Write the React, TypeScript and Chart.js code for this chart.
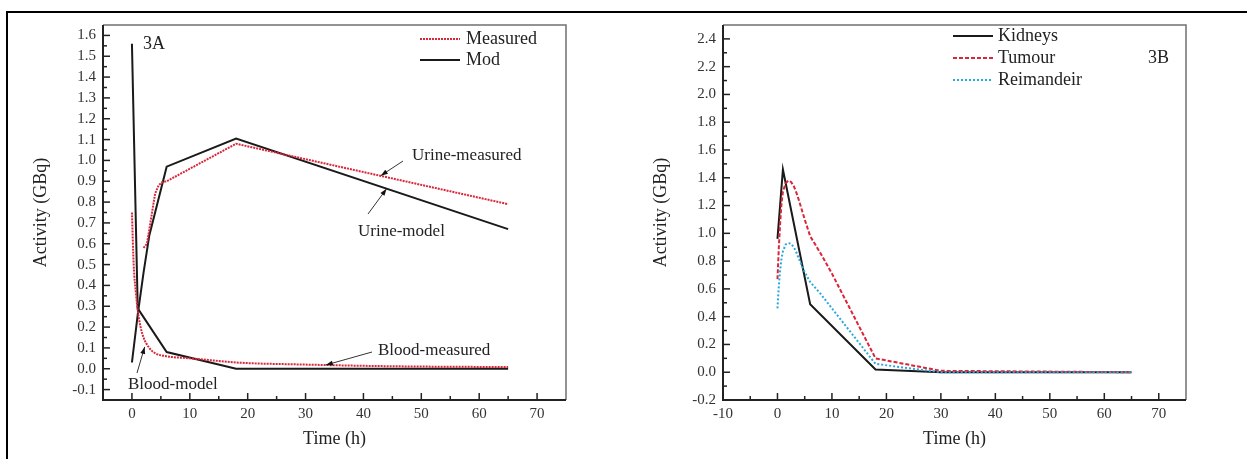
import React, { useEffect, useRef } from "react";
import { Chart, registerables } from "chart.js";
Chart.register(...registerables);

const SERIF = '"Liberation Serif", "Times New Roman", serif';

// ---------- Panel 3A data ----------
const bloodMeasuredT = [0, 0.3, 0.7, 1, 1.5, 2, 3, 4, 6, 10, 14, 18, 30, 45, 65];
const bloodMeasuredV = [0.75, 0.5, 0.36, 0.28, 0.2, 0.15, 0.1, 0.075, 0.06, 0.05, 0.04, 0.03, 0.02, 0.012, 0.008];
const urineMeasuredT = [2, 2.6, 3.3, 4, 4.6, 5.2, 6, 18, 65];
const urineMeasuredV = [0.58, 0.6, 0.72, 0.84, 0.88, 0.895, 0.9, 1.08, 0.79];
const bloodModelT = [0, 1, 6, 18, 65];
const bloodModelV = [1.56, 0.29, 0.08, 0.0, 0.0];
const urineModelT = [0, 1, 2, 3, 6, 18, 65];
const urineModelV = [0.03, 0.26, 0.46, 0.64, 0.97, 1.105, 0.67];

const xTicksA = [0, 10, 20, 30, 40, 50, 60, 70];
const yTicksA = [-0.1, 0.0, 0.1, 0.2, 0.3, 0.4, 0.5, 0.6, 0.7, 0.8, 0.9, 1.0, 1.1, 1.2, 1.3, 1.4, 1.5, 1.6];

// ---------- Panel 3B data ----------
const kidneysT = [0, 1, 6, 18, 30, 65];
const kidneysV = [0.96, 1.46, 0.49, 0.02, 0.0, 0.0];
const tumourT = [0, 0.25, 0.5, 0.75, 1, 1.5, 2, 2.5, 3, 3.5, 4, 5, 6, 8, 10, 18, 30, 65];
const tumourV = [0.67, 0.9, 1.08, 1.22, 1.3, 1.36, 1.38, 1.37, 1.34, 1.29, 1.23, 1.1, 0.98, 0.85, 0.71, 0.1, 0.01, 0.0];
const remainderT = [0, 0.25, 0.5, 0.75, 1, 1.5, 2, 2.5, 3, 3.5, 4, 5, 6, 8, 10, 18, 30, 65];
const remainderV = [0.46, 0.62, 0.74, 0.82, 0.87, 0.92, 0.93, 0.925, 0.9, 0.86, 0.81, 0.72, 0.65, 0.56, 0.46, 0.06, 0.0, 0.0];

const xTicksB = [-10, 0, 10, 20, 30, 40, 50, 60, 70];
const yTicksB = [-0.2, 0.0, 0.2, 0.4, 0.6, 0.8, 1.0, 1.2, 1.4, 1.6, 1.8, 2.0, 2.2, 2.4];

const RED = "#d9263a";
const CYAN = "#2aa8dc";
const BLACK = "#1a1a1a";

const pts = (t: number[], v: number[]) => t.map((x, i) => ({ x, y: v[i] }));
const mids = (a: number[]) => a.slice(1).map((v, i) => (v + a[i]) / 2);

type LegendItem = { label: string; color: string; dash: number[] };
type Ann = { text: string; tx: number; ty: number; fx: number; fy: number; dx: number; dy: number };
type Decor = {
  xMajor: number[];
  yMajor: number[];
  xMinor: number[];
  yMinor: number[];
  legend: { x0: number; x1: number; tx: number; ys: number[]; items: LegendItem[] };
  panel: { text: string; x: number; y: number };
  anns: Ann[];
};

function makeDecor(cfg: Decor) {
  return {
    id: "decor",
    afterDraw(chart: any) {
      const { ctx, chartArea: a } = chart;
      const xs = chart.scales.x;
      const ys = chart.scales.y;
      ctx.save();
      ctx.strokeStyle = "#707070";
      ctx.lineWidth = 1.5;
      ctx.beginPath();
      ctx.moveTo(a.left, a.top);
      ctx.lineTo(a.right, a.top);
      ctx.lineTo(a.right, a.bottom);
      ctx.stroke();
      ctx.strokeStyle = "#222";
      ctx.lineWidth = 2;
      ctx.beginPath();
      ctx.moveTo(a.left, a.top);
      ctx.lineTo(a.left, a.bottom);
      ctx.lineTo(a.right, a.bottom);
      ctx.stroke();
      ctx.lineWidth = 1.5;
      const tick = (x0: number, y0: number, x1: number, y1: number) => {
        ctx.beginPath();
        ctx.moveTo(x0, y0);
        ctx.lineTo(x1, y1);
        ctx.stroke();
      };
      cfg.xMajor.forEach((v) => { const p = xs.getPixelForValue(v); tick(p, a.bottom, p, a.bottom - 7); });
      cfg.xMinor.forEach((v) => { const p = xs.getPixelForValue(v); tick(p, a.bottom, p, a.bottom - 4); });
      cfg.yMajor.forEach((v) => { const p = ys.getPixelForValue(v); tick(a.left, p, a.left + 7, p); });
      cfg.yMinor.forEach((v) => { const p = ys.getPixelForValue(v); tick(a.left, p, a.left + 4, p); });
      const L = cfg.legend;
      ctx.font = `18px ${SERIF}`;
      ctx.textBaseline = "middle";
      ctx.textAlign = "left";
      L.items.forEach((it, i) => {
        const y = L.ys[i];
        ctx.strokeStyle = it.color;
        ctx.lineWidth = 2;
        ctx.setLineDash(it.dash);
        tick(L.x0, y, L.x1, y);
        ctx.setLineDash([]);
        ctx.fillStyle = "#222";
        ctx.fillText(it.label, L.tx, y);
      });
      ctx.fillStyle = "#222";
      ctx.fillText(cfg.panel.text, cfg.panel.x, cfg.panel.y);
      ctx.font = `17px ${SERIF}`;
      cfg.anns.forEach((an) => {
        ctx.fillStyle = "#222";
        ctx.fillText(an.text, an.tx, an.ty);
        const px = xs.getPixelForValue(an.dx);
        const py = ys.getPixelForValue(an.dy);
        ctx.strokeStyle = "#333";
        ctx.lineWidth = 1;
        tick(an.fx, an.fy, px, py);
        const ang = Math.atan2(py - an.fy, px - an.fx);
        const len = 7, w = 2.5;
        ctx.beginPath();
        ctx.moveTo(px, py);
        ctx.lineTo(px - len * Math.cos(ang) + w * Math.sin(ang), py - len * Math.sin(ang) - w * Math.cos(ang));
        ctx.lineTo(px - len * Math.cos(ang) - w * Math.sin(ang), py - len * Math.sin(ang) + w * Math.cos(ang));
        ctx.closePath();
        ctx.fillStyle = "#111";
        ctx.fill();
      });
      ctx.restore();
    },
  };
}

function scales(xMin: number, xMax: number, yMin: number, yMax: number, xt: number[], yt: number[], yw: number) {
  const tickFont = { family: SERIF, size: 15 };
  const titleFont = { family: SERIF, size: 18 };
  return {
    x: {
      type: "linear",
      min: xMin,
      max: xMax,
      afterBuildTicks: (s: any) => { s.ticks = xt.map((v) => ({ value: v })); },
      afterFit: (s: any) => { s.height = 59; },
      grid: { drawOnChartArea: false, drawTicks: false },
      border: { display: false },
      ticks: { font: tickFont, color: "#333", padding: 5, maxRotation: 0, autoSkip: false, callback: (v: any) => String(Math.round(v)) },
      title: { display: true, text: "Time (h)", font: titleFont, color: "#222", padding: { top: 0, bottom: 9 } },
    },
    y: {
      type: "linear",
      min: yMin,
      max: yMax,
      afterBuildTicks: (s: any) => { s.ticks = yt.map((v) => ({ value: v })); },
      afterFit: (s: any) => { s.width = yw; },
      grid: { drawOnChartArea: false, drawTicks: false },
      border: { display: false },
      ticks: { font: tickFont, color: "#333", padding: 7, autoSkip: false, callback: (v: any) => Number(v).toFixed(1) },
      title: { display: true, text: "Activity (GBq)", font: titleFont, color: "#222", padding: { top: 30, bottom: 0 } },
    },
  };
}

const line = (data: any, color: string, dash: number[], smooth: boolean) => ({
  data,
  borderColor: color,
  borderWidth: 2,
  borderDash: dash,
  pointRadius: 0,
  fill: false,
  cubicInterpolationMode: smooth ? "monotone" : "default",
  tension: smooth ? 0.4 : 0,
});

function ChartA() {
  const ref = useRef<HTMLCanvasElement>(null);
  useEffect(() => {
    const chart = new Chart(ref.current as HTMLCanvasElement, {
      type: "line",
      data: {
        datasets: [
          { label: "Blood-measured", ...line(pts(bloodMeasuredT, bloodMeasuredV), RED, [2, 1], true) },
          { label: "Urine-measured", ...line(pts(urineMeasuredT, urineMeasuredV), RED, [2, 1], false) },
          { label: "Blood-model", ...line(pts(bloodModelT, bloodModelV), BLACK, [], false) },
          { label: "Urine-model", ...line(pts(urineModelT, urineModelV), BLACK, [], false) },
        ] as any,
      },
      options: {
        responsive: false,
        animation: false,
        devicePixelRatio: 1,
        layout: { padding: { left: 0, top: 25, right: 54, bottom: 0 } },
        plugins: { legend: { display: false }, tooltip: { enabled: false } },
        scales: scales(-5, 75, -0.15, 1.65, xTicksA, yTicksA, 103) as any,
      },
      plugins: [
        makeDecor({
          xMajor: xTicksA,
          yMajor: yTicksA,
          xMinor: [5, 15, 25, 35, 45, 55, 65],
          yMinor: mids(yTicksA),
          legend: {
            x0: 420, x1: 460, tx: 466, ys: [39, 60],
            items: [
              { label: "Measured", color: RED, dash: [2, 1] },
              { label: "Mod", color: BLACK, dash: [] },
            ],
          },
          panel: { text: "3A", x: 143, y: 44 },
          anns: [
            { text: "Urine-measured", tx: 412, ty: 156, fx: 403, fy: 161, dx: 43, dy: 0.927 },
            { text: "Urine-model", tx: 358, ty: 232, fx: 368, fy: 214, dx: 44, dy: 0.864 },
            { text: "Blood-measured", tx: 378, ty: 351, fx: 372, fy: 352, dx: 33.5, dy: 0.018 },
            { text: "Blood-model", tx: 128, ty: 385, fx: 137, fy: 373, dx: 2.2, dy: 0.105 },
          ],
        }),
      ],
    });
    return () => chart.destroy();
  }, []);
  return <canvas ref={ref} width={620} height={459} style={{ position: "absolute", left: 0, top: 0, width: 620, height: 459 }} />;
}

function ChartB() {
  const ref = useRef<HTMLCanvasElement>(null);
  useEffect(() => {
    const chart = new Chart(ref.current as HTMLCanvasElement, {
      type: "line",
      data: {
        datasets: [
          { label: "Reimandeir", ...line(pts(remainderT, remainderV), CYAN, [2, 2], false) },
          { label: "Tumour", ...line(pts(tumourT, tumourV), RED, [4, 2], false) },
          { label: "Kidneys", ...line(pts(kidneysT, kidneysV), BLACK, [], false) },
        ] as any,
      },
      options: {
        responsive: false,
        animation: false,
        devicePixelRatio: 1,
        layout: { padding: { left: 0, top: 25, right: 61, bottom: 0 } },
        plugins: { legend: { display: false }, tooltip: { enabled: false } },
        scales: scales(-10, 75, -0.2, 2.5, xTicksB, yTicksB, 103) as any,
      },
      plugins: [
        makeDecor({
          xMajor: xTicksB,
          yMajor: yTicksB,
          xMinor: mids(xTicksB),
          yMinor: mids(yTicksB),
          legend: {
            x0: 333, x1: 373, tx: 378, ys: [36, 58, 80],
            items: [
              { label: "Kidneys", color: BLACK, dash: [] },
              { label: "Tumour", color: RED, dash: [4, 2] },
              { label: "Reimandeir", color: CYAN, dash: [2, 2] },
            ],
          },
          panel: { text: "3B", x: 528, y: 58 },
          anns: [],
        }),
      ],
    });
    return () => chart.destroy();
  }, []);
  return <canvas ref={ref} width={627} height={459} style={{ position: "absolute", left: 620, top: 0, width: 627, height: 459 }} />;
}

export default function App() {
  return (
    <div style={{ position: "absolute", left: 0, top: 0, width: 1247, height: 459, background: "#fff", overflow: "hidden" }}>
      <ChartA />
      <ChartB />
      <div
        style={{
          position: "absolute",
          left: 6,
          top: 11,
          width: 1247,
          height: 459,
          borderLeft: "2px solid #000",
          borderTop: "2px solid #000",
          pointerEvents: "none",
        }}
      />
    </div>
  );
}
